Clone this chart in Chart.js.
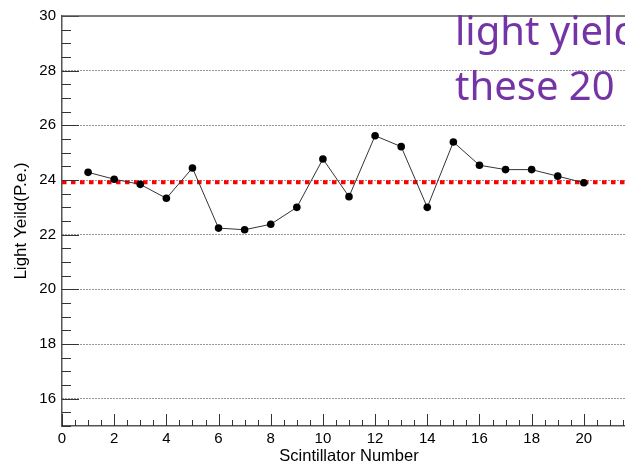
<!DOCTYPE html>
<html>
<head>
<meta charset="utf-8">
<script src="https://cdn.jsdelivr.net/npm/chart.js@4/dist/chart.umd.min.js"></script>
<style>
  html, body { margin: 0; padding: 0; background: #fff; overflow: hidden; }
  #wrap { position: relative; width: 640px; height: 465px; }
</style>
</head>
<body>
<div id="wrap"><canvas id="c"></canvas></div>
<script>
// Scintillator light-yield scan
const scintillators = [1, 2, 3, 4, 5, 6, 7, 8, 9, 10, 11, 12, 13, 14, 15, 16, 17, 18, 19, 20];
const lightYield = [24.28, 24.03, 23.84, 23.33, 24.44, 22.24, 22.18, 22.38, 23.00, 24.77,
                    23.39, 25.62, 25.22, 23.00, 25.39, 24.54, 24.38, 24.38, 24.14, 23.90];
const meanYield = 23.92;
const xTickValues = [0, 2, 4, 6, 8, 10, 12, 14, 16, 18, 20];
const yTickValues = [16, 18, 20, 22, 24, 26, 28, 30];
const noteLines = ['light yield', 'these 20'];

const X_MIN = 0, X_MAX = 22, Y_MIN = 15, Y_MAX = 30;
const FONT = "'Liberation Sans', Arial, Helvetica, sans-serif";
const AXIS_COLOR = '#555';

// Inner tick marks, top frame line and annotation text
const frameAndNotes = {
  id: 'frameAndNotes',
  afterDraw(chart) {
    const { ctx, chartArea: a, scales: { x, y } } = chart;
    ctx.save();
    ctx.strokeStyle = '#333';
    ctx.lineWidth = 1;
    ctx.beginPath();
    for (let v = Y_MIN; v <= Y_MAX + 1e-9; v += 0.5) {
      const py = Math.round(y.getPixelForValue(v)) + 0.5;
      const len = (Math.abs(v - Math.round(v / 2) * 2) < 1e-9) ? 17 : 9;
      ctx.moveTo(a.left, py);
      ctx.lineTo(a.left + len, py);
    }
    for (let v = X_MIN; v <= X_MAX + 1e-9; v += 0.5) {
      const px = Math.round(x.getPixelForValue(v)) + 0.5;
      const len = (Math.abs(v - Math.round(v / 2) * 2) < 1e-9) ? 12 : 6;
      ctx.moveTo(px, a.bottom);
      ctx.lineTo(px, a.bottom - len);
    }
    ctx.stroke();

    // top frame
    ctx.strokeStyle = AXIS_COLOR;
    ctx.lineWidth = 1.5;
    ctx.beginPath();
    ctx.moveTo(a.left, a.top);
    ctx.lineTo(a.right, a.top);
    ctx.stroke();

    // annotation
    ctx.fillStyle = '#7434a6';
    ctx.font = "40px 'Noto Sans', sans-serif";
    ctx.textAlign = 'left';
    ctx.textBaseline = 'alphabetic';
    ctx.fillText(noteLines[0], 455, 45);
    ctx.fillText(noteLines[1], 455, 100);
    ctx.restore();
  }
};

new Chart(document.getElementById('c'), {
  type: 'line',
  data: {
    datasets: [
      {
        label: 'Light yield',
        data: scintillators.map((n, i) => ({ x: n, y: lightYield[i] })),
        borderColor: '#333',
        borderWidth: 1,
        pointRadius: 3.8,
        pointBackgroundColor: '#000',
        pointBorderColor: '#000',
        pointBorderWidth: 0,
        tension: 0,
        order: 0
      },
      {
        label: 'Mean',
        data: [{ x: X_MIN, y: meanYield }, { x: X_MAX, y: meanYield }],
        borderColor: '#ff0000',
        borderWidth: 4,
        borderDash: [4.5, 4.5],
        borderCapStyle: 'butt',
        pointRadius: 0,
        order: 1
      }
    ]
  },
  options: {
    responsive: true,
    maintainAspectRatio: false,
    animation: false,
    events: [],
    layout: { padding: { left: 0, top: 16, right: 4, bottom: 0 } },
    plugins: { legend: { display: false }, tooltip: { enabled: false } },
    scales: {
      x: {
        type: 'linear',
        min: X_MIN,
        max: X_MAX,
        afterFit(scale) { scale.height = 39; },
        afterBuildTicks(scale) { scale.ticks = xTickValues.map(v => ({ value: v })); },
        grid: { display: false, drawTicks: false },
        border: { display: true, color: AXIS_COLOR, width: 1.5 },
        ticks: {
          color: '#000',
          font: { family: FONT, size: 15 },
          padding: 4,
          maxRotation: 0,
          autoSkip: false
        },
        title: {
          display: true,
          text: 'Scintillator Number',
          color: '#000',
          font: { family: FONT, size: 16.5, lineHeight: 1 },
          padding: { top: 0, bottom: 0 }
        }
      },
      y: {
        type: 'linear',
        min: Y_MIN,
        max: Y_MAX,
        afterFit(scale) { scale.width = 62; },
        afterBuildTicks(scale) { scale.ticks = yTickValues.map(v => ({ value: v })); },
        grid: {
          drawTicks: false,
          color: ctx => (ctx.tick && ctx.tick.value === Y_MAX) ? 'rgba(0,0,0,0)' : '#333',
          lineWidth: 1
        },
        border: { display: true, color: AXIS_COLOR, width: 1.5, dash: [1, 2] },
        ticks: {
          color: '#000',
          font: { family: FONT, size: 15 },
          padding: 6,
          autoSkip: false
        },
        title: {
          display: true,
          text: 'Light Yeild(P.e.)',
          color: '#000',
          font: { family: FONT, size: 17, lineHeight: 1.2 },
          padding: { top: 11, bottom: 0 }
        }
      }
    }
  },
  plugins: [frameAndNotes]
});
</script>
</body>
</html>
